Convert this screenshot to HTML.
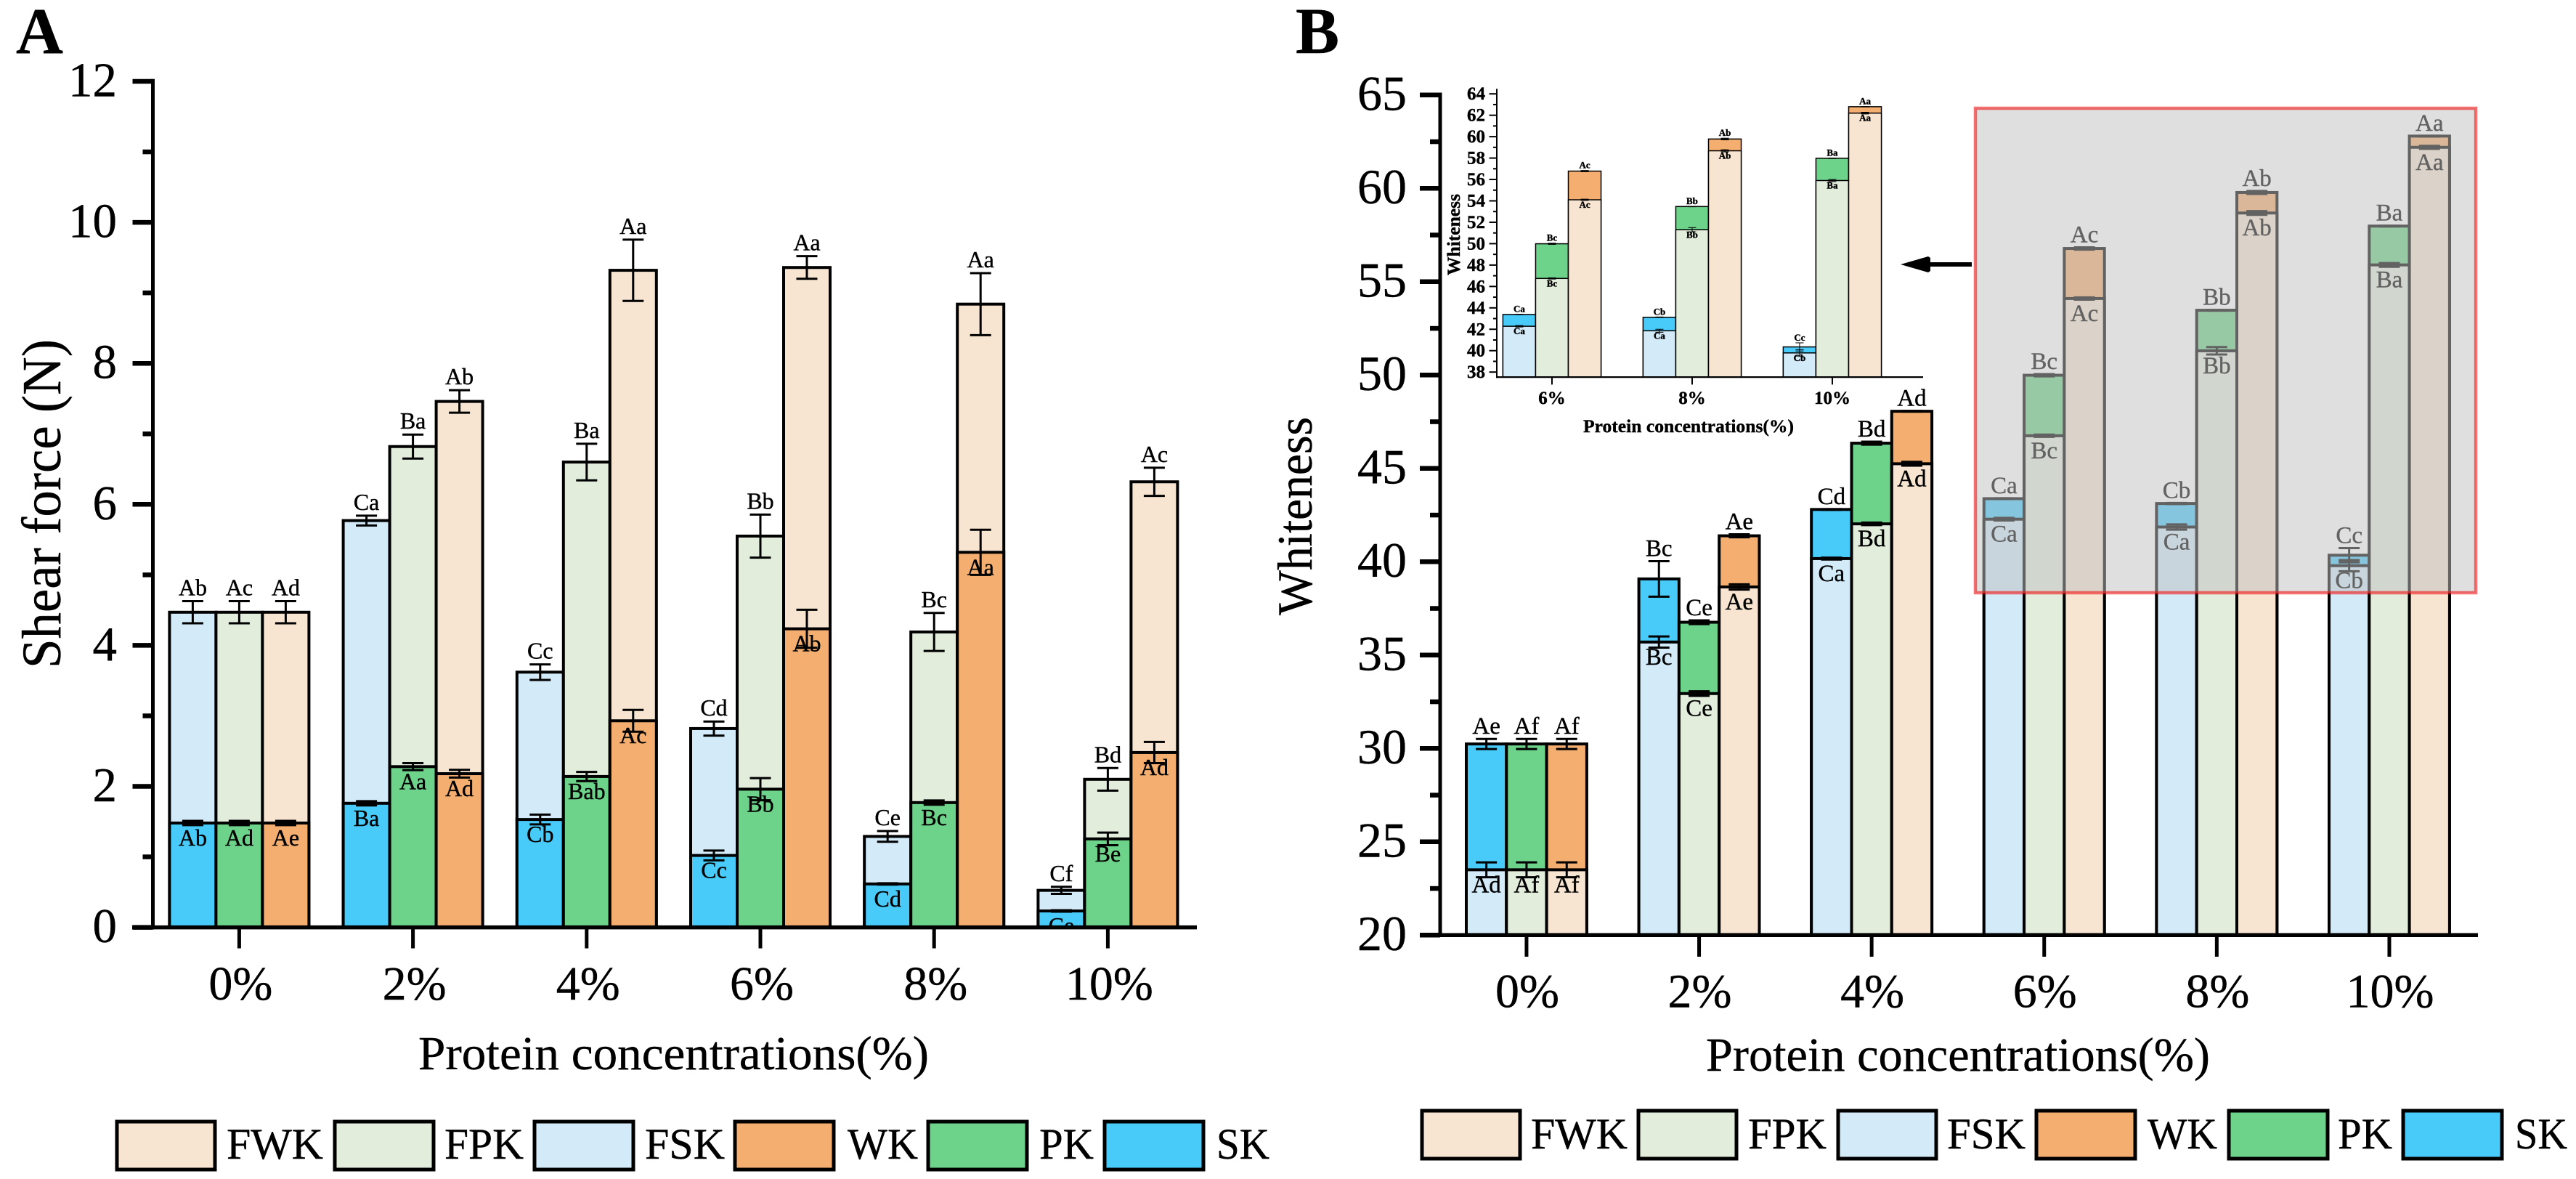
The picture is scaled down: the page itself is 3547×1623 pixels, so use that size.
<!DOCTYPE html>
<html lang="en">
<head>
<meta charset="utf-8">
<title>Shear force and whiteness by protein concentration</title>
<style>
  html, body { margin: 0; padding: 0; background: #ffffff; }
  #figure { position: absolute; left: 0; top: 0; display: block; font-family: "Liberation Serif", "Times New Roman", serif; }
  #figure text { stroke: #000; stroke-width: 0.4; }
</style>
</head>
<body>
<svg id="figure" xmlns="http://www.w3.org/2000/svg" width="3547" height="1623" viewBox="0 0 3547 1623">
  <defs>
    <clipPath id="plot-a-clip"><rect x="0" y="0" width="3547" height="1274"/></clipPath>
  </defs>
  <rect x="0" y="0" width="3547" height="1623" fill="#ffffff"/>

  <text x="22" y="73" font-size="90" font-weight="bold">A</text>
  <text x="1784" y="73" font-size="90" font-weight="bold">B</text>

  <g id="panel-a"></g>
  <text transform="translate(83 920) rotate(-90)" font-size="76" textLength="453" lengthAdjust="spacingAndGlyphs">Shear force (N)</text>
  <text x="576" y="1472" font-size="66" textLength="703" lengthAdjust="spacingAndGlyphs">Protein concentrations(%)</text>

  <g id="panel-b"></g>
  <text transform="translate(1806 847) rotate(-90)" font-size="68" textLength="273" lengthAdjust="spacingAndGlyphs">Whiteness</text>
  <text x="2349" y="1474" font-size="66" textLength="694" lengthAdjust="spacingAndGlyphs">Protein concentrations(%)</text>

  <g id="inset"></g>
  <text transform="translate(2010 379) rotate(-90)" font-size="25" font-weight="bold" textLength="112" lengthAdjust="spacingAndGlyphs">Whiteness</text>
  <text x="2180" y="595" font-size="25" font-weight="bold" textLength="290" lengthAdjust="spacingAndGlyphs">Protein concentrations(%)</text>

  <g>
    <rect x="2650" y="361" width="65" height="6" fill="#000000"/>
    <polygon points="2617,364 2655,353 2658,355 2658,373 2655,375" fill="#000000"/>
  </g>

  <rect x="2720" y="149" width="689" height="667" fill="#c0c0c0" fill-opacity="0.51"/>
  <rect x="2720" y="149" width="689" height="667" fill="none" stroke="#f01414" stroke-opacity="0.6" stroke-width="4.5"/>

  <g font-size="60">
    <g>
      <rect x="161" y="1544" width="135" height="66" fill="#f7e5d2" stroke="#000" stroke-width="5"/>
      <text x="312" y="1595" textLength="133" lengthAdjust="spacingAndGlyphs">FWK</text>
    </g>
    <g>
      <rect x="461" y="1544" width="136" height="66" fill="#e2eddc" stroke="#000" stroke-width="5"/>
      <text x="612" y="1595" textLength="109" lengthAdjust="spacingAndGlyphs">FPK</text>
    </g>
    <g>
      <rect x="736" y="1544" width="136" height="66" fill="#d3ebf9" stroke="#000" stroke-width="5"/>
      <text x="888" y="1595" textLength="110" lengthAdjust="spacingAndGlyphs">FSK</text>
    </g>
    <g>
      <rect x="1012" y="1544" width="136" height="66" fill="#f4ae70" stroke="#000" stroke-width="5"/>
      <text x="1167" y="1595" textLength="97" lengthAdjust="spacingAndGlyphs">WK</text>
    </g>
    <g>
      <rect x="1278" y="1544" width="136" height="66" fill="#6dd28a" stroke="#000" stroke-width="5"/>
      <text x="1431" y="1595" textLength="75" lengthAdjust="spacingAndGlyphs">PK</text>
    </g>
    <g>
      <rect x="1521" y="1544" width="136" height="66" fill="#49cbfa" stroke="#000" stroke-width="5"/>
      <text x="1675" y="1595" textLength="73" lengthAdjust="spacingAndGlyphs">SK</text>
    </g>
  </g>

  <g font-size="60">
    <g>
      <rect x="1958" y="1529" width="135" height="66" fill="#f7e5d2" stroke="#000" stroke-width="5"/>
      <text x="2108" y="1581" textLength="133" lengthAdjust="spacingAndGlyphs">FWK</text>
    </g>
    <g>
      <rect x="2256" y="1529" width="135" height="66" fill="#e2eddc" stroke="#000" stroke-width="5"/>
      <text x="2407" y="1581" textLength="108" lengthAdjust="spacingAndGlyphs">FPK</text>
    </g>
    <g>
      <rect x="2531" y="1529" width="135" height="66" fill="#d3ebf9" stroke="#000" stroke-width="5"/>
      <text x="2681" y="1581" textLength="108" lengthAdjust="spacingAndGlyphs">FSK</text>
    </g>
    <g>
      <rect x="2804" y="1529" width="136" height="66" fill="#f4ae70" stroke="#000" stroke-width="5"/>
      <text x="2957" y="1581" textLength="96" lengthAdjust="spacingAndGlyphs">WK</text>
    </g>
    <g>
      <rect x="3069" y="1529" width="136" height="66" fill="#6dd28a" stroke="#000" stroke-width="5"/>
      <text x="3219" y="1581" textLength="75" lengthAdjust="spacingAndGlyphs">PK</text>
    </g>
    <g>
      <rect x="3309" y="1529" width="136" height="66" fill="#49cbfa" stroke="#000" stroke-width="5"/>
      <text x="3463" y="1581" textLength="72" lengthAdjust="spacingAndGlyphs">SK</text>
    </g>
  </g>
</svg>

<script>
// ---------- shared categories ----------
const categories = ['0%', '2%', '4%', '6%', '8%', '10%'];

// ---------- panel A: shear force ----------
const shearTicks = [0, 2, 4, 6, 8, 10, 12];
const shearMinorTicks = [1, 3, 5, 7, 9, 11];

const shearFSK = [4.47, 5.77, 3.62, 2.82, 1.29, 0.525];
const shearFPK = [4.47, 6.82, 6.60, 5.55, 4.19, 2.10];
const shearFWK = [4.47, 7.46, 9.32, 9.36, 8.84, 6.32];
const shearSK = [1.48, 1.76, 1.53, 1.02, 0.616, 0.233];
const shearPK = [1.48, 2.28, 2.14, 1.96, 1.77, 1.255];
const shearWK = [1.48, 2.18, 2.93, 4.235, 5.32, 2.48];

const shearFSKErr = [0.157, 0.07, 0.11, 0.10, 0.076, 0.05];
const shearFPKErr = [0.157, 0.17, 0.26, 0.305, 0.27, 0.16];
const shearFWKErr = [0.157, 0.16, 0.435, 0.16, 0.44, 0.20];
const shearSKErr = [0.03, 0.03, 0.07, 0.07, 0.01, 0.01];
const shearPKErr = [0.03, 0.05, 0.065, 0.157, 0.03, 0.09];
const shearWKErr = [0.03, 0.055, 0.155, 0.27, 0.32, 0.15];

const shearFSKLabels = ['Ab', 'Ca', 'Cc', 'Cd', 'Ce', 'Cf'];
const shearFPKLabels = ['Ac', 'Ba', 'Ba', 'Bb', 'Bc', 'Bd'];
const shearFWKLabels = ['Ad', 'Ab', 'Aa', 'Aa', 'Aa', 'Ac'];
const shearSKLabels = ['Ab', 'Ba', 'Cb', 'Cc', 'Cd', 'Ce'];
const shearPKLabels = ['Ad', 'Aa', 'Bab', 'Bb', 'Bc', 'Be'];
const shearWKLabels = ['Ae', 'Ad', 'Ac', 'Ab', 'Aa', 'Ad'];

// ---------- panel B: whiteness ----------
const whiteTicks = [20, 25, 30, 35, 40, 45, 50, 55, 60, 65];
const whiteMinorTicks = [22.5, 27.5, 32.5, 37.5, 42.5, 47.5, 52.5, 57.5, 62.5];

const whiteSK = [30.24, 39.08, 42.80, 43.38, 43.12, 40.35];
const whitePK = [30.24, 36.76, 46.35, 49.99, 53.47, 57.98];
const whiteWK = [30.24, 41.39, 48.06, 56.78, 59.78, 62.80];
const whiteFSK = [23.5, 35.70, 40.17, 42.28, 41.86, 39.79];
const whiteFPK = [23.5, 32.94, 42.03, 46.75, 51.30, 55.90];
const whiteFWK = [23.5, 38.65, 45.25, 54.10, 58.68, 62.20];

const whiteSKErr = [0.27, 0.95, 0.02, 0.02, 0.03, 0.38];
const whitePKErr = [0.27, 0.10, 0.08, 0.06, 0.02, 0.02];
const whiteWKErr = [0.27, 0.08, 0.02, 0.06, 0.08, 0.02];
const whiteFSKErr = [0.40, 0.30, 0.05, 0.07, 0.14, 0.30];
const whiteFPKErr = [0.40, 0.12, 0.07, 0.06, 0.20, 0.10];
const whiteFWKErr = [0.40, 0.14, 0.10, 0.06, 0.10, 0.08];

const whiteSKLabels = ['Ae', 'Bc', 'Cd', 'Ca', 'Cb', 'Cc'];
const whitePKLabels = ['Af', 'Ce', 'Bd', 'Bc', 'Bb', 'Ba'];
const whiteWKLabels = ['Af', 'Ae', 'Ad', 'Ac', 'Ab', 'Aa'];
const whiteFSKLabels = ['Ad', 'Bc', 'Ca', 'Ca', 'Ca', 'Cb'];
const whiteFPKLabels = ['Af', 'Ce', 'Bd', 'Bc', 'Bb', 'Ba'];
const whiteFWKLabels = ['Af', 'Ae', 'Ad', 'Ac', 'Ab', 'Aa'];

// ---------- inset: zoom of the last three whiteness groups ----------
const insetCategories = [3, 4, 5];
const insetTicks = [38, 40, 42, 44, 46, 48, 50, 52, 54, 56, 58, 60, 62, 64];
const insetMinorTicks = [39, 41, 43, 45, 47, 49, 51, 53, 55, 57, 59, 61, 63];

const FILL_FSK = '#d3ebf9', FILL_FPK = '#e2eddc', FILL_FWK = '#f7e5d2';
const FILL_SK = '#49cbfa', FILL_PK = '#6dd28a', FILL_WK = '#f4ae70';
const SVG_NS = 'http://www.w3.org/2000/svg';

function make(parent, tag, attrs, content) {
  const el = document.createElementNS(SVG_NS, tag);
  for (const key in attrs) el.setAttribute(key, attrs[key]);
  if (content !== undefined) el.textContent = content;
  parent.appendChild(el);
  return el;
}

function drawChart(root, cfg) {
  const y = v => cfg.yZero - (v - cfg.yMin) * cfg.yScale;
  const barX = (i, col) => cfg.barStart + cfg.groupStep * i + cfg.barWidth * col;
  const group = make(root, 'g', {});
  const labelLayer = make(root, 'g', cfg.labelClip ? { 'clip-path': cfg.labelClip } : {});

  cfg.groups.forEach((cat, slot) => {
    cfg.columns.forEach((column, col) => {
      const left = barX(slot, col);
      const centre = left + cfg.barWidth / 2;

      [column.outer, column.inner].forEach((series, layer) => {
        const value = series.values[cat];
        const err = series.errors[cat];
        const top = y(value);

        const bar = make(group, 'rect', {
          x: left, y: top, width: cfg.barWidth, height: cfg.yZero - top,
          fill: series.fill, stroke: '#000', 'stroke-width': cfg.barStroke
        });
        
        

        const errTop = y(value + err);
        const errBottom = y(value - err);
        const stem = make(group, 'line', {
          x1: centre, x2: centre, y1: errTop, y2: errBottom, stroke: '#000', 'stroke-width': cfg.errStroke
        });
        
        
        [errTop, errBottom].forEach(capY => {
          const cap = make(group, 'line', {
            x1: centre - cfg.capWidth / 2, x2: centre + cfg.capWidth / 2, y1: capY, y2: capY,
            stroke: '#000', 'stroke-width': cfg.errStroke
          });
          
          
        });

        const labelY = layer === 0 ? errTop - cfg.labelAbove : top + cfg.labelBelow;
        const label = make(labelLayer, 'text', {
          x: centre, y: labelY, 'text-anchor': 'middle', 'font-size': cfg.labelSize,
          'font-weight': cfg.bold ? 'bold' : 'normal'
        }, series.labels[cat]);
        
        
      });
    });
  });

  // y axis
  const yAxis = make(root, 'line', {
    x1: cfg.axisX, x2: cfg.axisX, y1: y(cfg.yTop) - cfg.tickStroke / 2, y2: cfg.yZero + cfg.xAxisStroke / 2,
    stroke: '#000', 'stroke-width': cfg.axisStroke
  });
  
  

  cfg.ticks.forEach(v => {
    const tick = make(root, 'line', {
      x1: cfg.axisX - cfg.majorLen, x2: cfg.axisX, y1: y(v), y2: y(v), stroke: '#000', 'stroke-width': cfg.tickStroke
    });
    
    
    const text = make(root, 'text', {
      x: cfg.yLabelX, y: y(v) + cfg.yLabelDy, 'text-anchor': 'end', 'font-size': cfg.tickSize,
      'font-weight': cfg.bold ? 'bold' : 'normal'
    }, String(v));
    
    
  });
  cfg.minorTicks.forEach(v => {
    const tick = make(root, 'line', {
      x1: cfg.axisX - cfg.minorLen, x2: cfg.axisX, y1: y(v), y2: y(v), stroke: '#000', 'stroke-width': cfg.tickStroke
    });
    
    
  });

  // x axis
  const xAxis = make(root, 'line', {
    x1: cfg.xAxisStart, x2: cfg.xAxisEnd, y1: cfg.yZero, y2: cfg.yZero, stroke: '#000', 'stroke-width': cfg.xAxisStroke
  });
  
  

  cfg.groups.forEach((cat, slot) => {
    const cx = barX(slot, 1) + cfg.barWidth / 2;
    const tick = make(root, 'line', {
      x1: cx, x2: cx, y1: cfg.yZero, y2: cfg.xTickEnd, stroke: '#000', 'stroke-width': cfg.xTickStroke
    });
    
    
    const text = make(root, 'text', {
      x: cx + cfg.xLabelDx, y: cfg.xLabelY, 'text-anchor': 'middle', 'font-size': cfg.xTickSize,
      'font-weight': cfg.bold ? 'bold' : 'normal'
    }, categories[cat]);
    
    
  });
}

const shearColumns = [
  { outer: { key: 'fsk', values: shearFSK, errors: shearFSKErr, labels: shearFSKLabels, fill: FILL_FSK },
    inner: { key: 'sk', values: shearSK, errors: shearSKErr, labels: shearSKLabels, fill: FILL_SK } },
  { outer: { key: 'fpk', values: shearFPK, errors: shearFPKErr, labels: shearFPKLabels, fill: FILL_FPK },
    inner: { key: 'pk', values: shearPK, errors: shearPKErr, labels: shearPKLabels, fill: FILL_PK } },
  { outer: { key: 'fwk', values: shearFWK, errors: shearFWKErr, labels: shearFWKLabels, fill: FILL_FWK },
    inner: { key: 'wk', values: shearWK, errors: shearWKErr, labels: shearWKLabels, fill: FILL_WK } }
];

const whiteColumns = [
  { outer: { key: 'sk', values: whiteSK, errors: whiteSKErr, labels: whiteSKLabels, fill: FILL_SK },
    inner: { key: 'fsk', values: whiteFSK, errors: whiteFSKErr, labels: whiteFSKLabels, fill: FILL_FSK } },
  { outer: { key: 'pk', values: whitePK, errors: whitePKErr, labels: whitePKLabels, fill: FILL_PK },
    inner: { key: 'fpk', values: whiteFPK, errors: whiteFPKErr, labels: whiteFPKLabels, fill: FILL_FPK } },
  { outer: { key: 'wk', values: whiteWK, errors: whiteWKErr, labels: whiteWKLabels, fill: FILL_WK },
    inner: { key: 'fwk', values: whiteFWK, errors: whiteFWKErr, labels: whiteFWKLabels, fill: FILL_FWK } }
];

drawChart(document.getElementById('panel-a'), {
  groups: [0, 1, 2, 3, 4, 5], columns: shearColumns,
  yMin: 0, yTop: 12, yZero: 1276.6, yScale: 97.05,
  barStart: 233.4, groupStep: 239.2, barWidth: 64, barStroke: 4,
  errStroke: 3, capWidth: 29, labelSize: 32, labelAbove: 8, labelBelow: 31, labelClip: 'url(#plot-a-clip)',
  ticks: shearTicks, minorTicks: shearMinorTicks,
  axisX: 210.5, axisStroke: 5, majorLen: 28, minorLen: 14, tickStroke: 6.5,
  yLabelX: 161, yLabelDy: 20.5, tickSize: 67,
  xAxisStart: 182, xAxisEnd: 1648, xAxisStroke: 5.5, xTickEnd: 1305.5, xTickStroke: 5,
  xLabelY: 1376, xLabelDx: 2, xTickSize: 66
});

drawChart(document.getElementById('panel-b'), {
  groups: [0, 1, 2, 3, 4, 5], columns: whiteColumns,
  yMin: 20, yTop: 65, yZero: 1287.3, yScale: 25.7,
  barStart: 2019, groupStep: 237.6, barWidth: 55.3, barStroke: 4,
  errStroke: 3, capWidth: 29, labelSize: 33, labelAbove: 7, labelBelow: 31,
  ticks: whiteTicks, minorTicks: whiteMinorTicks,
  axisX: 1983, axisStroke: 5, majorLen: 28, minorLen: 14, tickStroke: 6.5,
  yLabelX: 1937, yLabelDy: 20.5, tickSize: 68,
  xAxisStart: 1955, xAxisEnd: 3412, xAxisStroke: 5.5, xTickEnd: 1317, xTickStroke: 5,
  xLabelY: 1386.5, xLabelDx: 1, xTickSize: 66
});

drawChart(document.getElementById('inset'), {
  groups: insetCategories, columns: whiteColumns,
  yMin: 37.53, yTop: 64.4, yZero: 519.1, yScale: 14.73, bold: true,
  barStart: 2069.4, groupStep: 193, barWidth: 45.05, barStroke: 1.5,
  errStroke: 1, capWidth: 11, labelSize: 13, labelAbove: 3, labelBelow: 11,
  ticks: insetTicks, minorTicks: insetMinorTicks,
  axisX: 2061, axisStroke: 2, majorLen: 10.5, minorLen: 5, tickStroke: 2,
  yLabelX: 2045, yLabelDy: 8, tickSize: 25,
  xAxisStart: 2060, xAxisEnd: 2648, xAxisStroke: 2.2, xTickEnd: 529.4, xTickStroke: 2,
  xLabelY: 556, xLabelDx: 0, xTickSize: 25
});
</script>
</body>
</html>
